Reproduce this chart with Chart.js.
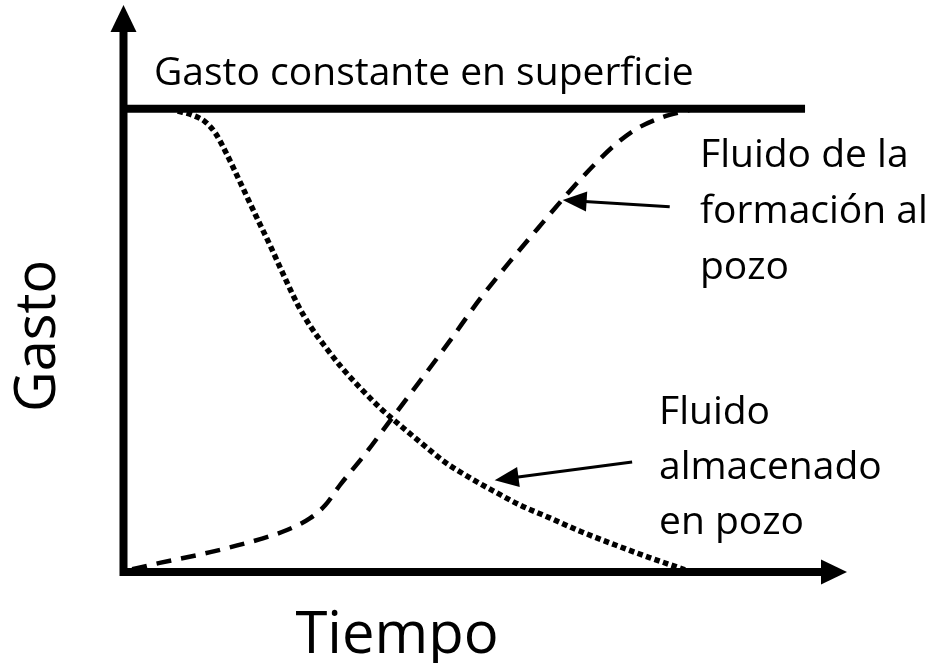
<!DOCTYPE html>
<html>
<head>
<meta charset="utf-8">
<script src="https://cdn.jsdelivr.net/npm/chart.js@4"></script>
<style>
  html, body { margin: 0; padding: 0; background: #fff; }
  canvas { display: block; }
</style>
</head>
<body>
<canvas id="chart" width="930" height="663"></canvas>
<script>
// constant surface rate
const constX = [0, 94.2];
const constY = [81.7, 81.7];

// fluid coming from the formation (dashed)
const formX = [1.2, 5.0, 12.0, 18.9, 22.6, 25.8, 27.9, 29.9, 33.4, 36.8, 41.0, 44.9, 49.3, 53.7, 58.0, 61.7, 65.2, 67.9, 70.7, 74.2, 78.3];
const formY = [0.5, 1.6, 3.5, 5.8, 7.4, 9.5, 11.8, 15.3, 20.8, 26.6, 33.7, 40.4, 48.2, 55.2, 61.7, 67.2, 72.0, 75.3, 78.0, 80.1, 81.5];

// fluid stored in the well (dotted)
const storeX = [7.5, 9.5, 11.3, 12.7, 14.0, 16.1, 18.2, 20.3, 22.3, 24.1, 25.8, 27.9, 30.2, 32.7, 35.5, 38.2, 41.0, 44.4, 47.9, 51.4, 54.8, 59.0, 63.1, 67.9, 72.8, 77.6];
const storeY = [81.3, 80.6, 79.4, 77.4, 74.4, 68.8, 63.1, 57.5, 51.9, 47.1, 43.4, 39.7, 36.0, 32.5, 28.9, 25.9, 22.9, 19.4, 16.6, 14.1, 11.8, 9.5, 7.2, 4.8, 2.5, 0.4];

const xTitle = "Tiempo";
const yTitle = "Gasto";
const topLabel = "Gasto constante en superficie";
const formLabel = ["Fluido de la", "formación al", "pozo"];
const storeLabel = ["Fluido", "almacenado", "en pozo"];

// callout arrows: [fromX, fromY, toX, toY] in data units
const formArrow = [75.5, 64.4, 60.7, 65.6];
const storeArrow = [70.3, 19.4, 51.3, 16.2];

const pts = (xs, ys) => xs.map((x, i) => ({ x, y: ys[i] }));
const FONT = "'Open Sans', 'Noto Sans', sans-serif";

function arrowHead(ctx, x1, y1, x2, y2, len, half) {
  const a = Math.atan2(y2 - y1, x2 - x1);
  ctx.beginPath();
  ctx.moveTo(x2, y2);
  ctx.lineTo(x2 - len * Math.cos(a) + half * Math.sin(a), y2 - len * Math.sin(a) - half * Math.cos(a));
  ctx.lineTo(x2 - len * Math.cos(a) - half * Math.sin(a), y2 - len * Math.sin(a) + half * Math.cos(a));
  ctx.closePath();
  ctx.fill();
}

const sketch = {
  id: "sketch",
  afterDatasetsDraw(chart) {
    const { ctx, chartArea: a, scales: { x, y } } = chart;
    ctx.save();
    ctx.fillStyle = "#000";
    ctx.strokeStyle = "#000";

    // axes with arrow heads
    const x0 = a.left, y0 = a.bottom;
    ctx.lineWidth = 8;
    ctx.lineCap = "butt";
    ctx.beginPath();
    ctx.moveTo(x0, y0 + 4);
    ctx.lineTo(x0, a.top + 24);
    ctx.moveTo(x0 - 4, y0);
    ctx.lineTo(a.right - 24, y0);
    ctx.stroke();
    arrowHead(ctx, x0, y0, x0, a.top, 27, 13);
    arrowHead(ctx, x0, y0, a.right, y0, 26, 12.5);

    // callouts
    ctx.lineWidth = 3;
    [formArrow, storeArrow].forEach(([fx, fy, tx, ty]) => {
      const x1 = x.getPixelForValue(fx), y1 = y.getPixelForValue(fy);
      const x2 = x.getPixelForValue(tx), y2 = y.getPixelForValue(ty);
      const ang = Math.atan2(y2 - y1, x2 - x1);
      ctx.beginPath();
      ctx.moveTo(x1, y1);
      ctx.lineTo(x2 - 18 * Math.cos(ang), y2 - 18 * Math.sin(ang));
      ctx.stroke();
      arrowHead(ctx, x1, y1, x2, y2, 24, 10);
    });

    // texts
    ctx.textBaseline = "alphabetic";
    ctx.textAlign = "left";
    ctx.font = `39px ${FONT}`;
    ctx.fillText(topLabel, 154, 85);
    formLabel.forEach((t, i) => ctx.fillText(t, 700, 167 + i * 56));
    storeLabel.forEach((t, i) => ctx.fillText(t, 659, 424 + i * 55));

    ctx.textAlign = "center";
    ctx.font = `58px ${FONT}`;
    ctx.fillText(xTitle, 397, 653);
    ctx.translate(55, 336);
    ctx.rotate(-Math.PI / 2);
    ctx.font = `56px ${FONT}`;
    ctx.fillText(yTitle, 0, 0);
    ctx.restore();
  }
};

new Chart(document.getElementById("chart"), {
  type: "line",
  data: {
    datasets: [
      { data: pts(constX, constY), borderColor: "#000", borderWidth: 8, pointRadius: 0, order: 0, tension: 0 },
      { data: pts(formX, formY), borderColor: "#000", borderWidth: 4.5, borderDash: [15, 10], borderCapStyle: "butt", pointRadius: 0, order: 1, cubicInterpolationMode: "monotone" },
      { data: pts(storeX, storeY), borderColor: "#000", borderWidth: 5.5, borderDash: [5.5, 3.5], borderCapStyle: "butt", pointRadius: 0, order: 2, cubicInterpolationMode: "monotone" }
    ]
  },
  options: {
    responsive: false,
    animation: false,
    clip: false,
    layout: { padding: { left: 123.5, right: 83, top: 5, bottom: 91 } },
    scales: {
      x: { type: "linear", min: 0, max: 100, display: false },
      y: { min: 0, max: 100, display: false }
    },
    plugins: { legend: { display: false }, tooltip: { enabled: false } }
  },
  plugins: [sketch]
});
</script>
</body>
</html>
